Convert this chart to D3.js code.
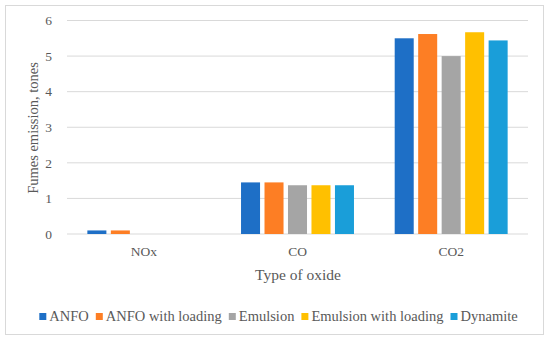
<!DOCTYPE html>
<html><head><meta charset="utf-8">
<script src="https://cdn.jsdelivr.net/npm/d3@7"></script>
<style>body{margin:0;background:#fff}svg{display:block;font-family:"Liberation Serif",serif}</style>
</head><body><svg id="c" width="550" height="343"></svg>
<script>
const categories = ["NOx", "CO", "CO2"];
const seriesNames = ["ANFO", "ANFO with loading", "Emulsion", "Emulsion with loading", "Dynamite"];
const anfo = [0.1, 1.45, 5.5];
const anfoLoading = [0.1, 1.45, 5.62];
const emulsion = [0, 1.37, 5.0];
const emulsionLoading = [0, 1.37, 5.67];
const dynamite = [0, 1.37, 5.44];
const yTicks = [0, 1, 2, 3, 4, 5, 6];
const colors = ["#1E6FC6", "#FD7E24", "#A5A5A5", "#FFC000", "#1A9ED9"];
const seriesValues = [anfo, anfoLoading, emulsion, emulsionLoading, dynamite];

(function(){
const svg = d3.select("#c");
svg.append("rect").attr("x",5.5).attr("y",5.5).attr("width",538).attr("height",329)
  .attr("fill","#fff").attr("stroke","#D9D9D9").attr("stroke-width",1);

const pLeft=67, pRight=528, pTop=20.5, pBottom=234;
const x0 = d3.scaleBand().domain(categories).range([pLeft,pRight]).paddingInner(0.265).paddingOuter(0.1325);
const x1 = d3.scaleBand().domain(seriesNames).range([0,x0.bandwidth()]).paddingInner(0.19);
const y = d3.scaleLinear().domain([0,6]).range([pBottom,pTop]);

svg.append("g").selectAll("line").data(yTicks).join("line")
  .attr("x1",pLeft).attr("x2",pRight).attr("y1",d=>y(d)).attr("y2",d=>y(d))
  .attr("stroke","#D9D9D9").attr("stroke-width",1);

const yAxis = d3.axisLeft(y).tickValues(yTicks).tickFormat(d3.format("d")).tickSize(0).tickPadding(0);
const gy = svg.append("g").attr("transform",`translate(${pLeft-15},0)`).call(yAxis);
gy.select(".domain").remove();
gy.selectAll("text").attr("fill","#595959").style("font-size","13.5px").style("font-family","Liberation Serif");

const groups = svg.append("g").selectAll("g").data(categories).join("g")
  .attr("transform",d=>`translate(${x0(d)},0)`);
groups.selectAll("rect").data((c,ci)=>seriesNames.map((s,si)=>({s,si,v:seriesValues[si][ci]})))
  .join("rect")
  .attr("x",d=>x1(d.s)).attr("width",x1.bandwidth())
  .attr("y",d=>y(d.v)).attr("height",d=>pBottom-y(d.v))
  .attr("fill",d=>colors[d.si]);

const xAxis = d3.axisBottom(x0).tickSize(0).tickPadding(0);
const gx = svg.append("g").attr("transform",`translate(0,${pBottom+12})`).call(xAxis);
gx.select(".domain").remove();
gx.selectAll("text").attr("fill","#595959").style("font-size","13.5px").style("font-family","Liberation Serif");

svg.append("text").attr("x",298).attr("y",280).attr("text-anchor","middle")
  .attr("fill","#595959").style("font-size","15.5px").text("Type of oxide");
svg.append("text").attr("transform","translate(38,128) rotate(-90)").attr("text-anchor","middle")
  .attr("fill","#595959").style("font-size","14.5px").text("Fumes emission, tones");

const lg = svg.append("g");
let cx = 0;
seriesNames.forEach((s,i)=>{
  const g = lg.append("g").attr("transform",`translate(${cx},0)`);
  g.append("rect").attr("x",0).attr("y",-8).attr("width",7).attr("height",7).attr("fill",colors[i]);
  const t = g.append("text").attr("x",10).attr("y",0).attr("fill","#595959").style("font-size","14.5px").text(s);
  cx += 10 + t.node().getComputedTextLength() + 7;
});
const totalW = cx - 7;
lg.attr("transform",`translate(${278.5-totalW/2},321)`);
})();
</script></body></html>
